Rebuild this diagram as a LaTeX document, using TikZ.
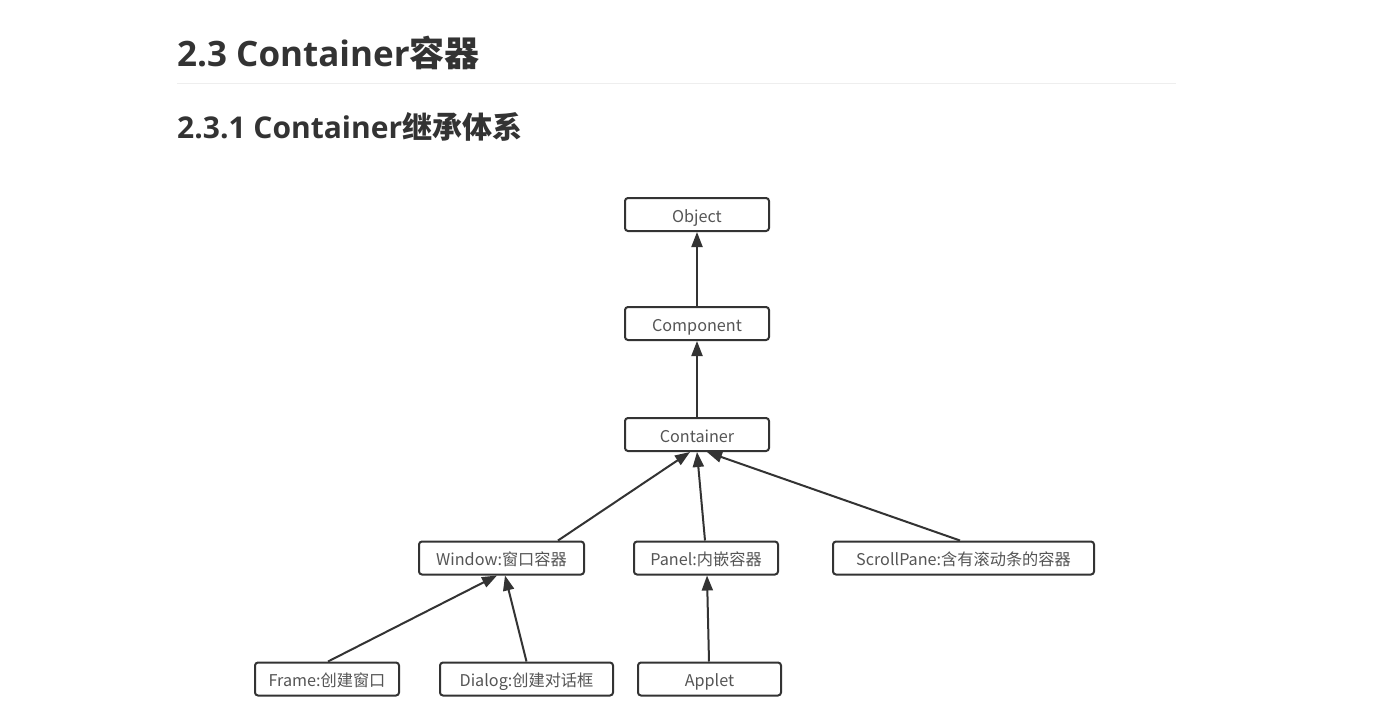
\documentclass[tikz,border=0pt]{standalone}
\usepackage{fontspec}
\setmainfont{Open Sans}
\newfontfamily\cjk{Noto Sans CJK SC}
\usetikzlibrary{arrows.meta}
\definecolor{boxline}{HTML}{333333}
\definecolor{boxtext}{HTML}{555555}
\definecolor{headtext}{HTML}{333333}
\definecolor{rulegray}{HTML}{EEEEEE}
\tikzset{
    cls/.style={draw=boxline, line width=2pt, rounded corners=3pt, fill=white,
        minimum height=33pt, inner sep=0pt, text=boxtext,
        text height=15pt, text depth=0pt,
        font=\cjk\fontsize{16.2pt}{19pt}\selectfont},
    inh/.style={draw=boxline, line width=2pt,
        -{Triangle[length=15pt,width=11pt]}}}

\begin{document}
\begin{tikzpicture}[x=1pt, y=-1pt]

                    \useasboundingbox[fill=white] (0,0) rectangle (1385,724);

                    % headings
                    \node[anchor=base west, inner sep=0pt, text=headtext] (h1) at (177,66) {\fontsize{35pt}{40pt}\selectfont\bfseries 2.3 Container{\cjk\bfseries 容器}};
                    \draw[rulegray, line width=1pt] (177,83) -- (1176,83);
                    \node[anchor=base west, inner sep=0pt, text=headtext] (h2) at (177,138) {\fontsize{30pt}{36pt}\selectfont\bfseries 2.3.1 Container{\cjk\bfseries 继承体系}};

                    \node[cls, minimum width=144pt] (obj) at (697,214.5) {Object};
                    \node[cls, minimum width=144pt] (comp) at (697,323.5) {Component};
                    \node[cls, minimum width=144pt] (cont) at (697,434.5) {Container};
                    \node[cls, minimum width=165pt] (win) at (501.5,558) {Window:窗口容器};
                    \node[cls, minimum width=144pt] (pan) at (706,558) {Panel:内嵌容器};
                    \node[cls, minimum width=261pt] (scr) at (963.5,558) {ScrollPane:含有滚动条的容器};
                    \node[cls, minimum width=144pt] (frm) at (327,679) {Frame:创建窗口};
                    \node[cls, minimum width=173pt] (dlg) at (526.5,679) {Dialog:创建对话框};
                    \node[cls, minimum width=143pt] (app) at (709.5,679) {Applet};

                    \draw[inh] (comp) -- (obj);
                    \draw[inh] (cont) -- (comp);
                    \draw[inh] ([xshift=56.5pt]win.north) -- ([xshift=-7pt]cont.south);
                    \draw[inh] ([xshift=-1pt]pan.north) -- (cont.south);
                    \draw[inh] ([xshift=-3.5pt]scr.north) -- ([xshift=10pt]cont.south);
                    \draw[inh] ([xshift=1pt]frm.north) -- ([xshift=-4.5pt]win.south);
                    \draw[inh] (dlg.north) -- ([xshift=3.5pt]win.south);
                    \draw[inh] ([xshift=-0.5pt]app.north) -- ([xshift=1pt]pan.south);

                \end{tikzpicture}
\end{document}
